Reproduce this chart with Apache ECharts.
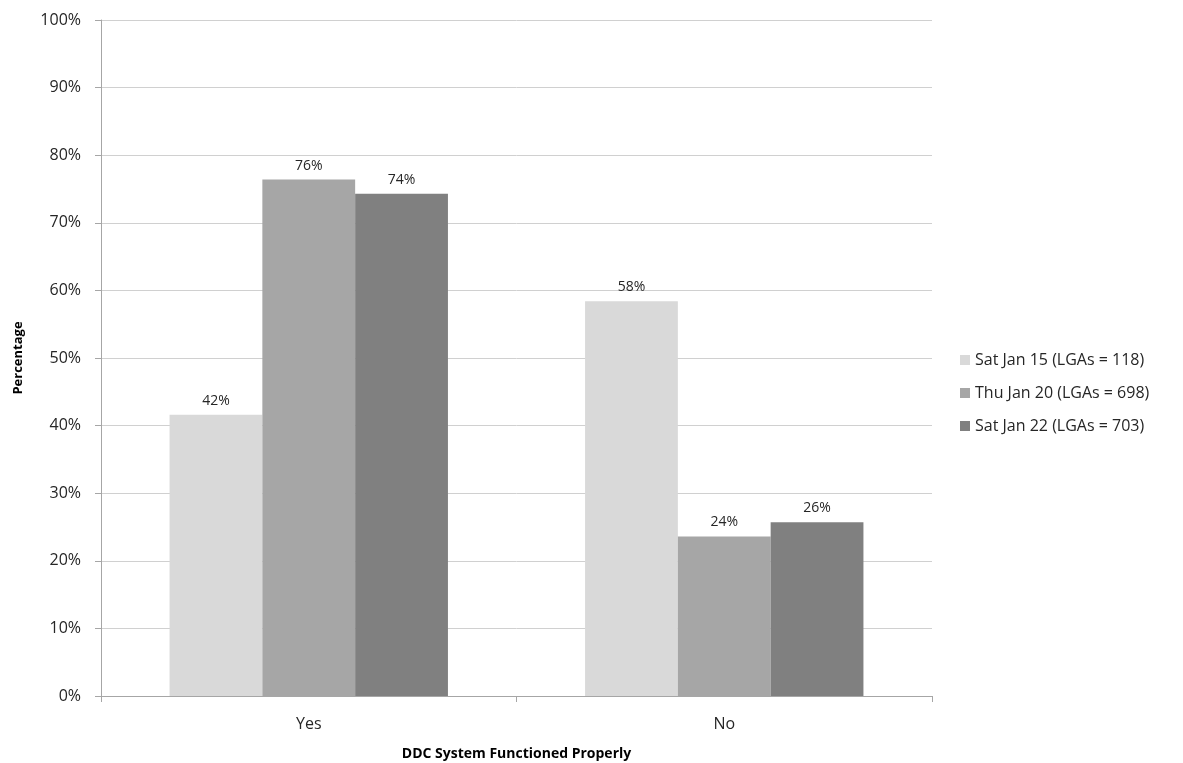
<!DOCTYPE html>
<html>
<head>
<meta charset="utf-8">
<script src="https://cdn.jsdelivr.net/npm/echarts@6/dist/echarts.min.js"></script>
<style>
html,body{margin:0;padding:0;background:#fff;}
#chart{width:1183px;height:763px;}
</style>
</head>
<body>
<div id="chart"></div>
<script>
const categories = ['Yes', 'No'];
const seriesNames = ['Sat Jan 15 (LGAs = 118)', 'Thu Jan 20 (LGAs = 698)', 'Sat Jan 22 (LGAs = 703)'];
const satJan15 = [41.6, 58.4];
const thuJan20 = [76.4, 23.6];
const satJan22 = [74.3, 25.7];
const colors = ['#d9d9d9', '#a6a6a6', '#808080'];

const font = '"Open Sans", "Liberation Sans", sans-serif';
const chart = echarts.init(document.getElementById('chart'));
const data = [satJan15, thuJan20, satJan22];
chart.setOption({
  animation: false,
  backgroundColor: '#fff',
  textStyle: {fontFamily: font},
  grid: {left: 101, right: 251, top: 20, bottom: 67, containLabel: false, outerBoundsMode: 'none'},
  legend: {
    orient: 'vertical', left: 955, top: 347,
    itemWidth: 10, itemHeight: 10, itemGap: 17,
    icon: 'rect',
    textStyle: {fontFamily: font, fontSize: 16, color: '#262626'},
    data: seriesNames
  },
  xAxis: {
    type: 'category', data: categories,
    name: 'DDC System Functioned Properly', nameLocation: 'middle', nameGap: 51,
    nameTextStyle: {fontFamily: font, fontSize: 14, fontWeight: 'bold', color: '#000'},
    axisLine: {lineStyle: {color: '#a6a6a6'}},
    axisTick: {show: true, length: 6, lineStyle: {color: '#a6a6a6'}},
    axisLabel: {fontFamily: font, fontSize: 16, color: '#262626', margin: 20}
  },
  yAxis: {
    type: 'value', min: 0, max: 100, interval: 10,
    name: 'Percentage', nameLocation: 'middle', nameGap: 76, nameRotate: 90,
    nameTextStyle: {fontFamily: font, fontSize: 13, fontWeight: 'bold', color: '#000'},
    axisLine: {show: true, lineStyle: {color: '#a6a6a6'}},
    axisTick: {show: true, length: 6, lineStyle: {color: '#a6a6a6'}},
    axisLabel: {fontFamily: font, fontSize: 16, color: '#262626', margin: 20, formatter: '{value}%'},
    splitLine: {lineStyle: {color: '#d0d0d0', width: 1}}
  },
  series: seriesNames.map((name, i) => ({
    name: name, type: 'bar', data: data[i],
    barGap: '0%', barCategoryGap: '33%',
    itemStyle: {color: colors[i]},
    label: {
      show: true, position: 'top', distance: 7,
      fontFamily: font, fontSize: 14, color: '#262626',
      formatter: p => Math.round(p.value) + '%'
    }
  }))
});
</script>
</body>
</html>
